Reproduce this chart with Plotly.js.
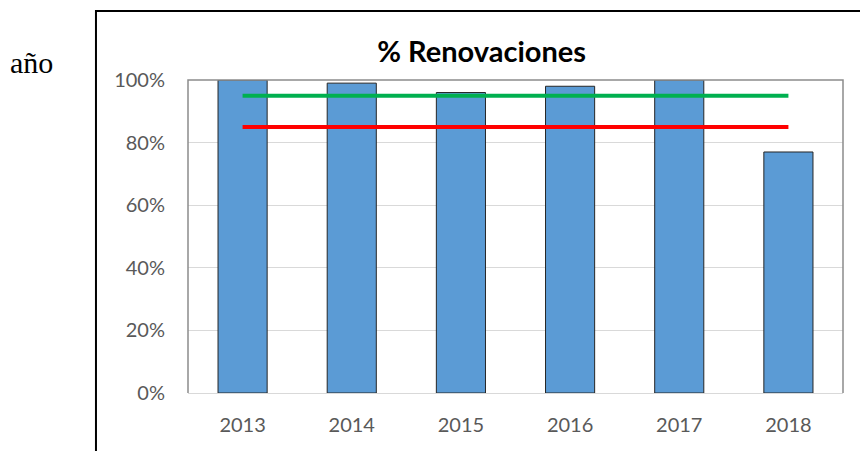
<!DOCTYPE html>
<html><head><meta charset="utf-8">
<script src="https://cdn.plot.ly/plotly-3.0.1.min.js"></script>
<style>html,body{margin:0;padding:0;background:#fff}#c{width:860px;height:451px}</style>
</head><body><div id="c"></div>
<script>
const years = ['2013','2014','2015','2016','2017','2018'];
const renovaciones = [100, 99, 96, 98, 100, 77];
const metaVerde = [95, 95, 95, 95, 95, 95];
const metaRoja = [85, 85, 85, 85, 85, 85];
const yTicks = [0, 20, 40, 60, 80, 100];

const font = 'Lato, "Open Sans", sans-serif';
const data = [
  {type:'bar', x: years, y: renovaciones, width: 0.45,
   marker:{color:'#5b9bd5', line:{color:'#262626', width:1}}, hoverinfo:'x+y'},
  {type:'scatter', mode:'lines', x: years, y: metaVerde, line:{color:'#00b050', width:4}},
  {type:'scatter', mode:'lines', x: years, y: metaRoja, line:{color:'#ff0000', width:4}}
];
const layout = {
  width:860, height:451, showlegend:false,
  margin:{l:188, r:17, t:80, b:58},
  paper_bgcolor:'#fff', plot_bgcolor:'#fff',
  title:{text:'<b>% Renovaciones</b>', x:0.4483, xref:'paper', xanchor:'center', y:0.885, yanchor:'middle',
         font:{family:font, size:29, color:'#000'}},
  xaxis:{type:'category', showgrid:false, showline:true, linecolor:'#d9d9d9', linewidth:1,
         ticks:'', tickfont:{family:font, size:20, color:'#595959'}, ticklabelstandoff:14},
  yaxis:{range:[0,100], tickvals:yTicks, ticktext:yTicks.map(v=>v+'%'), showgrid:true, gridcolor:'#d9d9d9',
         zeroline:false, showline:false, ticks:'', tickfont:{family:font, size:20, color:'#595959'}, ticklabelstandoff:22},
  shapes:[
    {type:'path', xref:'paper', yref:'paper', path:'M0,0 L0,1 L1,1 L1,0', line:{color:'#8c8c8c', width:1.5}},
    {type:'rect', xref:'paper', yref:'paper', x0:-0.1405, x1:1.2, y0:-0.4, y1:1.2204, line:{color:'#000', width:2}}
  ],
  annotations:[
    {text:'año', xref:'paper', yref:'paper', x:-0.2389, y:1.0575, xanchor:'center', yanchor:'middle', showarrow:false,
     font:{family:'"Liberation Serif", serif', size:30, color:'#000'}}
  ]
};
Plotly.newPlot('c', data, layout, {displayModeBar:false, staticPlot:true});
</script></body></html>
